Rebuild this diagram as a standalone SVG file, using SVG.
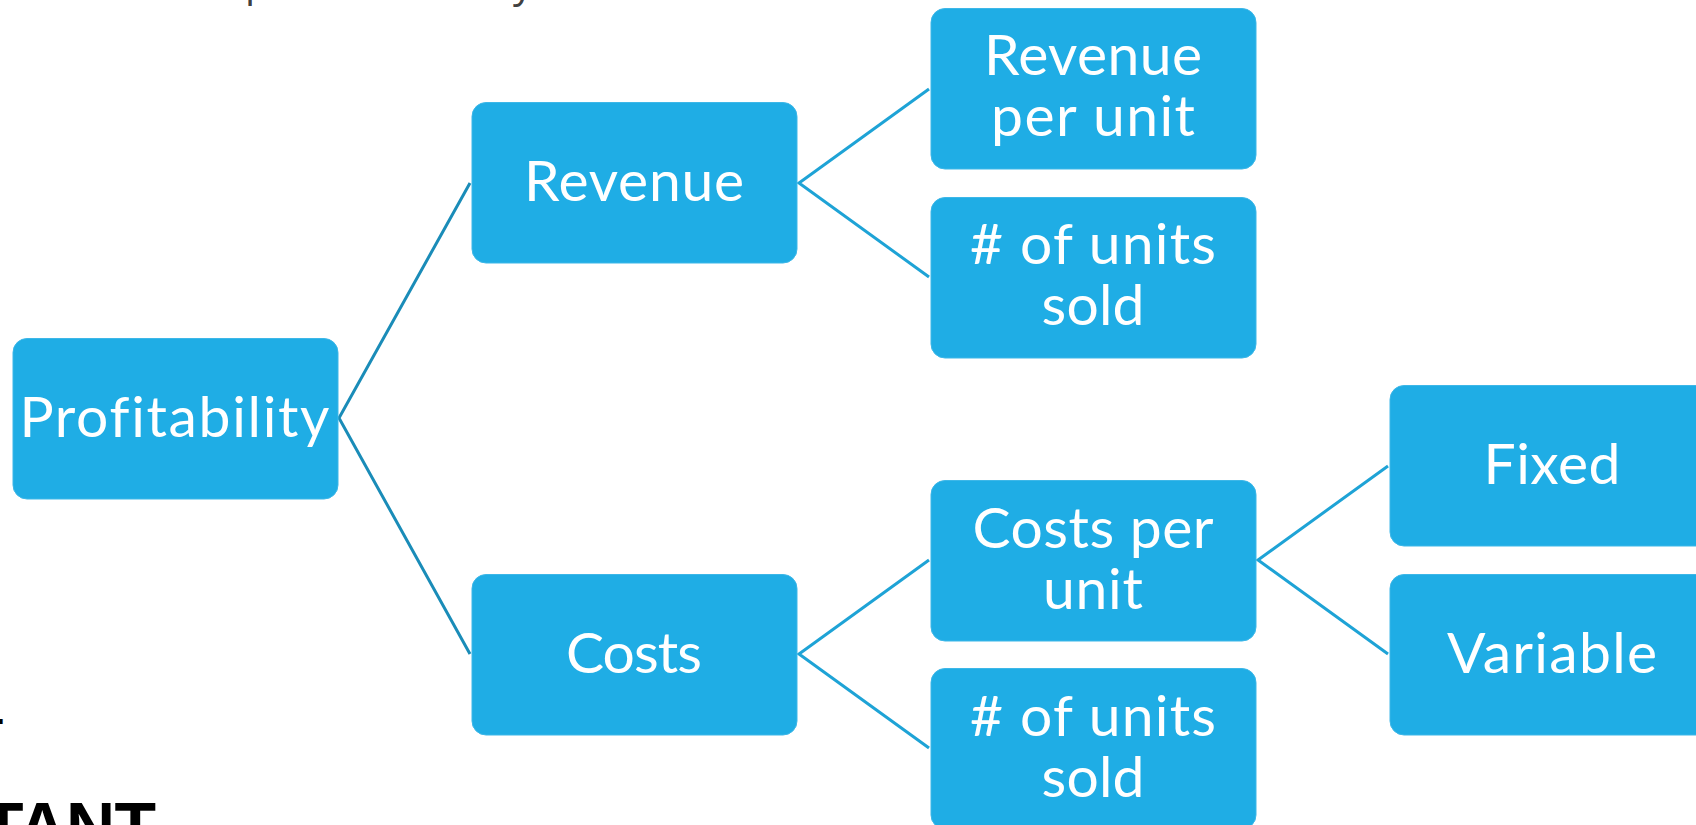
<svg xmlns="http://www.w3.org/2000/svg" width="1696" height="825" viewBox="0 0 1696 825">
<style>
.box{fill:#1fade5;stroke:#3db7e8;stroke-width:1}
.t{font-family:"Lato","Liberation Sans",sans-serif;font-weight:400;font-size:57px;fill:#fff;text-anchor:middle;font-variant-ligatures:none}
.c{fill:none;stroke-width:3}
.c1{stroke:#1a8cb8}
.c2{stroke:#1ea3d6}
.frag{font-family:"Open Sans",sans-serif;font-size:40px;fill:#404040}
.bk{font-family:"Liberation Sans",sans-serif;font-weight:700;fill:#000}
</style>
<rect width="1696" height="825" fill="#fff"/>
<g id="fragments">
<text class="frag" x="245" y="-4">p</text>
<text class="frag" x="513" y="-3">y</text>
<text class="bk" x="-4.400" y="724" font-size="34">.</text>
<text class="bk" x="-18" y="850" font-size="68" textLength="174">TANT</text>
</g>
<g id="connectors">
<path class="c c1" d="M470 183L339 418L470 654"/>
<path class="c c2" d="M929 89L799 183L929 277"/>
<path class="c c2" d="M929 560L799 654L929 748"/>
<path class="c c2" d="M1388 466L1258 560L1388 654"/>
</g>
<g id="profitability"><rect class="box" x="13" y="338.500" width="325" height="160.500" rx="14"/><text class="t" x="174.500" y="437" textLength="310">Profitability</text></g>
<g id="revenue"><rect class="box" x="472" y="102.500" width="325" height="160.500" rx="14"/><text class="t" x="634" y="201" textLength="220">Revenue</text></g>
<g id="costs"><rect class="box" x="472" y="574.500" width="325" height="160.500" rx="14"/><text class="t" x="634" y="673" textLength="136">Costs</text></g>
<g id="revenue-per-unit"><rect class="box" x="931" y="8.500" width="325" height="160.500" rx="14"/><text class="t" x="1093" y="75" textLength="218">Revenue</text><text class="t" x="1093" y="136" textLength="204">per unit</text></g>
<g id="units-sold-1"><rect class="box" x="931" y="197.500" width="325" height="160.500" rx="14"/><text class="t" x="1093" y="264" textLength="246"># of units</text><text class="t" x="1093" y="325" textLength="103">sold</text></g>
<g id="costs-per-unit"><rect class="box" x="931" y="480.500" width="325" height="160.500" rx="14"/><text class="t" x="1093" y="548" textLength="241">Costs per</text><text class="t" x="1093" y="609" textLength="100">unit</text></g>
<g id="units-sold-2"><rect class="box" x="931" y="668.500" width="325" height="160.500" rx="14"/><text class="t" x="1093" y="736" textLength="246"># of units</text><text class="t" x="1093" y="797" textLength="103">sold</text></g>
<g id="fixed"><rect class="box" x="1390" y="385.500" width="325" height="160.500" rx="14"/><text class="t" x="1552" y="484" textLength="137">Fixed</text></g>
<g id="variable"><rect class="box" x="1390" y="574.500" width="325" height="160.500" rx="14"/><text class="t" x="1552" y="673" textLength="210">Variable</text></g>
</svg>
